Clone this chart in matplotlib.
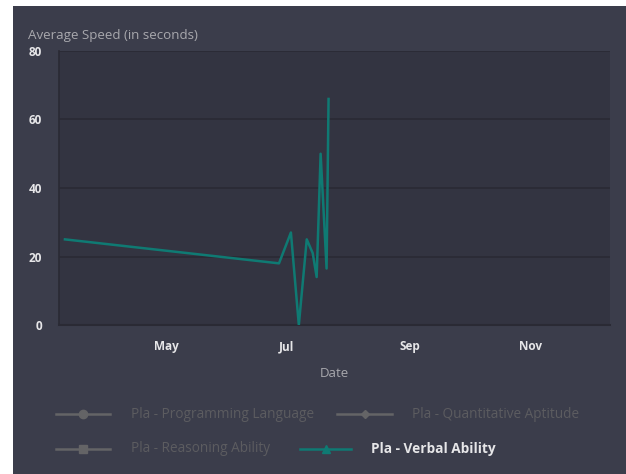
import matplotlib
matplotlib.use("Agg")
import matplotlib.pyplot as plt
import matplotlib.dates as mdates
from matplotlib.lines import Line2D
from matplotlib.patches import Rectangle
import numpy as np
import datetime as dt

plt.rcParams['font.family'] = ['Open Sans', 'DejaVu Sans']

# ---- data ----
dates = ["2017-03-11", "2017-06-27", "2017-07-03", "2017-07-07", "2017-07-11",
         "2017-07-14", "2017-07-16", "2017-07-18", "2017-07-21", "2017-07-22"]
verbal_speed = [25, 18, 27, 0, 25, 21, 14, 50, 16.5, 66]
y_ticks = [0, 20, 40, 60, 80]
legend_labels = ["Pla - Programming Language", "Pla - Quantitative Aptitude",
                 "Pla - Reasoning Ability", "Pla - Verbal Ability"]
x_dates = [dt.datetime.strptime(d, "%Y-%m-%d") for d in dates]

W, H = 626, 474
fig = plt.figure(figsize=(W / 100, H / 100), dpi=100)
fig.patch.set_facecolor("white")
outer = "#3b3d4b"
fig.patches.append(Rectangle((13 / W, 0), 1, 1 - 6 / H, transform=fig.transFigure,
                             facecolor=outer, edgecolor="none", zorder=-10))

L, R, T, B = 59, 610, 51, 325
ax = fig.add_axes([L / W, 1 - B / H, (R - L) / W, (B - T) / H])
ax.set_facecolor("#333441")

line_col = "#0f7a73"
ax.plot(x_dates, verbal_speed, color=line_col, lw=1.8, zorder=3)

ax.set_ylim(0, 80)
ax.set_yticks(y_ticks)
ax.set_xlim(dt.datetime(2017, 3, 8), dt.datetime(2017, 12, 11))
ax.xaxis.set_major_locator(mdates.MonthLocator(bymonth=[5, 7, 9, 11]))
ax.xaxis.set_major_formatter(mdates.DateFormatter("%b"))
ax.grid(axis="y", color="#2a2a34", lw=1.2)
ax.set_axisbelow(True)
for s in ["top", "right"]:
    ax.spines[s].set_visible(False)
ax.spines["left"].set_color("#2a2a34")
ax.spines["bottom"].set_color("#2a2a34")
ax.spines["left"].set_linewidth(1.2)
ax.spines["bottom"].set_linewidth(1.5)
ax.tick_params(axis="both", length=0, colors="#e6e6e8", labelsize=8.5)
ax.tick_params(axis="y", pad=12)
ax.tick_params(axis="x", pad=11)
for lab in ax.get_xticklabels() + ax.get_yticklabels():
    lab.set_fontweight("bold")
ax.set_xlabel("Date", color="#a8a8ad", fontsize=9.5, labelpad=10)

fig.text(28 / W, 1 - 35 / H, "Average Speed (in seconds)", color="#a8a8ad",
         fontsize=9.6, va="center", ha="left")

# ---- legend ----
grey = "#646466"
items = [
    (56, 110, 414, "o", grey, legend_labels[0], 131, False),
    (337, 392, 414, "D", grey, legend_labels[1], 412, False),
    (56, 110, 449, "s", grey, legend_labels[2], 131, False),
    (300, 351, 449, "^", line_col, legend_labels[3], 371, True),
]
for x0, x1, y, mk, col, lab, tx, active in items:
    yy = 1 - y / H
    fig.add_artist(Line2D([x0 / W, x1 / W], [yy, yy], transform=fig.transFigure,
                          color=col, lw=1.8))
    ms = 6 if mk != "D" else 4.5
    fig.add_artist(Line2D([(x0 + x1) / 2 / W], [yy], transform=fig.transFigure,
                          marker=mk, color=col, markersize=ms, lw=0))
    fig.text(tx / W, yy, lab, color="#e6e6e8" if active else "#5c5c60",
             fontsize=9.8, va="center", ha="left",
             fontweight="bold" if active else "normal")

fig.savefig("out.png", dpi=100, facecolor=fig.get_facecolor())
